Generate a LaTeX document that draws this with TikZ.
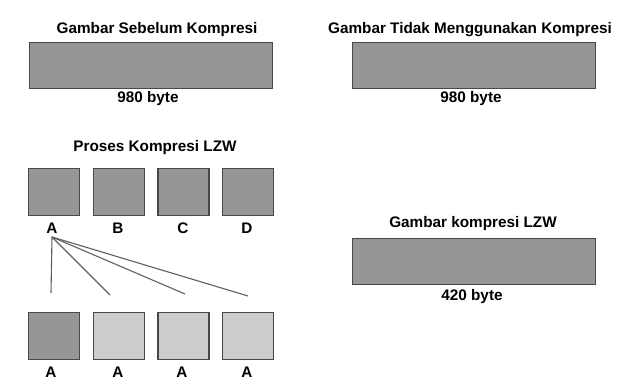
\documentclass[tikz,border=0pt]{standalone}
\usepackage{fontspec}
\setmainfont{Liberation Sans}
\definecolor{boxdark}{RGB}{150,150,150}
\definecolor{boxlight}{RGB}{204,204,204}
\definecolor{boxedge}{RGB}{72,72,72}
\definecolor{linkgray}{RGB}{95,95,95}
\begin{document}
\begin{tikzpicture}[x=1pt,y=-1pt,
  lbl/.style={font=\bfseries\fontsize{15.3}{17}\selectfont, inner sep=0pt, anchor=center},
  bar/.style={draw=boxedge, line width=1.4pt, fill=boxdark, inner sep=0pt,
    anchor=north west, minimum width=243pt, minimum height=46pt},
  tile/.style={draw=boxedge, line width=1.4pt, fill=boxdark, inner sep=0pt,
    anchor=north west, minimum width=51pt, minimum height=47pt},
  tilelight/.style={tile, fill=boxlight},
  link/.style={draw=linkgray, line width=1.1pt}]
\useasboundingbox (0,0) rectangle (637,387);
\fill[white] (0,0) rectangle (637,387);

% original picture
\node[lbl] (t1) at (157,30) {Gambar Sebelum Kompresi};
\node[bar] (b1) at (29,42) {};
\node[lbl] (s1) at (148,99) {980 byte};

% uncompressed picture
\node[lbl] (t2) at (470,30) {Gambar Tidak Menggunakan Kompresi};
\node[bar] (b2) at (352,42) {};
\node[lbl] (s2) at (471,99) {980 byte};

% LZW-compressed picture
\node[lbl] (t3) at (473,224) {Gambar kompresi LZW};
\node[bar] (b3) at (352,238) {};
\node[lbl] (s3) at (472,297) {420 byte};

% LZW process
\node[lbl] (t4) at (155,148) {Proses Kompresi LZW};
\node[tile] (qa) at (28,168) {};
\node[tile] (qb) at (92.7,168) {};
\node[tile] (qc) at (157.3,168) {};
\node[tile] (qd) at (222,168) {};
\node[lbl] (la) at (52,228) {A};
\node[lbl] (lb) at (118,228) {B};
\node[lbl] (lc) at (183,228) {C};
\node[lbl] (ld) at (247,228) {D};

\node[tile] (ra) at (28,312) {};
\node[tilelight] (rb) at (92.7,312) {};
\node[tilelight] (rc) at (157.3,312) {};
\node[tilelight] (rd) at (222,312) {};
\node[lbl] (ma) at (51,372) {A};
\node[lbl] (mb) at (118,372) {A};
\node[lbl] (mc) at (182,372) {A};
\node[lbl] (md) at (247,372) {A};

\coordinate (e1) at (51,293);
\coordinate (e2) at (110,295);
\coordinate (e3) at (185,294);
\coordinate (e4) at (248,296);
\coordinate (src) at (52,237);
\draw[link] (src) -- (e1);
\draw[link] (src) -- (e2);
\draw[link] (src) -- (e3);
\draw[link] (src) -- (e4);
\end{tikzpicture}
\end{document}
